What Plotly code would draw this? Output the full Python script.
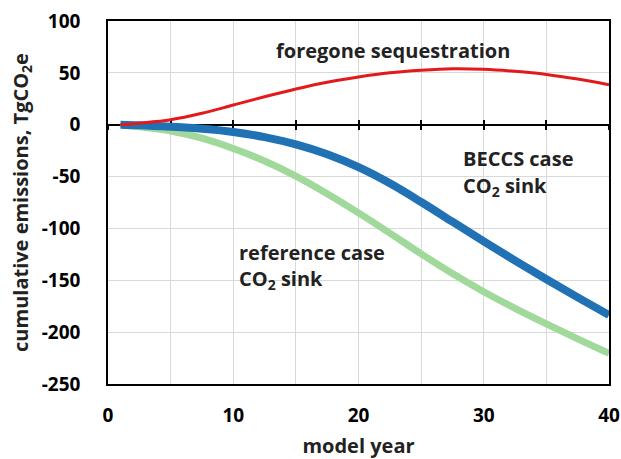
import plotly.graph_objects as go

# model years at which the cumulative series are sampled
years = [1, 2.5, 5, 7.5, 10, 12.5, 15, 17.5, 20, 22.5, 25, 27.5, 30, 32.5, 35, 37.5, 40]

# cumulative emissions, TgCO2e
foregone = [0, 1.5, 4.8, 11, 19, 27, 34.5, 41, 46, 50, 52.5, 54, 53.5, 51.5, 48.5, 44, 38.5]
beccs_sink = [0, -0.5, -2, -4, -7, -12, -19, -28.5, -41, -56.5, -74.5, -93.5, -112.5, -131, -149, -166.5, -183.5]
reference_sink = [0, -2, -6, -13, -23, -35, -49.5, -66.5, -85, -104.5, -124.5, -143.5, -161, -177, -192, -206.5, -220.5]

x_ticks = [0, 10, 20, 30, 40]
y_ticks = [-250, -200, -150, -100, -50, 0, 50, 100]
y_tick_text = ["-250", "-200", "-150", "-100", "-50", "0", "50", "100"]

FONT = "Open Sans"
TXT = "#222222"
GRID = "#d9d9d9"

fig = go.Figure()
fig.add_trace(go.Scatter(x=years, y=reference_sink, mode="lines",
                         line=dict(color="#a1d99b", width=7, shape="spline"),
                         hoverinfo="skip"))
fig.add_trace(go.Scatter(x=years, y=beccs_sink, mode="lines",
                         line=dict(color="#2171b5", width=8, shape="spline"),
                         hoverinfo="skip"))
fig.add_trace(go.Scatter(x=years, y=foregone, mode="lines",
                         line=dict(color="#e31a1c", width=3, shape="spline"),
                         hoverinfo="skip"))
# helper traces so the zero-line axes (with crossing ticks) get drawn
for xa in ("x2", "x3"):
    fig.add_trace(go.Scatter(x=[0], y=[0], xaxis=xa, mode="markers",
                             marker=dict(opacity=0), hoverinfo="skip"))

zero_pos = (0 - y_ticks[0]) / (y_ticks[-1] - y_ticks[0])

fig.update_layout(
    width=621, height=459,
    margin=dict(l=108, r=12, t=21, b=75, autoexpand=False),
    paper_bgcolor="white", plot_bgcolor="white",
    showlegend=False,
    font=dict(family=FONT, color=TXT),
    xaxis=dict(
        range=[0, 40], tickvals=x_ticks, automargin=False,
        showgrid=True, gridcolor=GRID, gridwidth=1,
        minor=dict(dtick=5, showgrid=True, gridcolor=GRID, gridwidth=1),
        showline=True, mirror=True, linecolor="black", linewidth=1.5,
        zeroline=False, ticks="", ticklabelstandoff=13,
        tickfont=dict(family=FONT, size=19, color="black", weight="bold"),
        title=dict(text="model year", standoff=20,
                   font=dict(family=FONT, size=20, color=TXT, weight="bold")),
    ),
    xaxis2=dict(
        range=[0, 40], overlaying="x", anchor="free", position=zero_pos,
        dtick=5, ticks="outside", ticklen=5, tickwidth=1.5, tickcolor="black",
        showline=True, linecolor="black", linewidth=1.5,
        showgrid=False, zeroline=False, showticklabels=False, layer="below traces",
    ),
    xaxis3=dict(
        range=[0, 40], overlaying="x", anchor="free", position=zero_pos,
        dtick=5, ticks="inside", ticklen=5, tickwidth=1.5, tickcolor="black",
        showline=False, showgrid=False, zeroline=False, showticklabels=False,
        layer="below traces",
    ),
    yaxis=dict(
        range=[y_ticks[0], y_ticks[-1]], tickvals=y_ticks, ticktext=y_tick_text,
        automargin=False,
        showgrid=True, gridcolor=GRID, gridwidth=1,
        showline=True, mirror=True, linecolor="black", linewidth=1.5,
        zeroline=False, ticks="", ticklabelstandoff=22,
        tickfont=dict(family=FONT, size=19, color="black", weight="bold"),
        title=dict(text="cumulative emissions, TgCO<sub>2</sub>e", standoff=8,
                   font=dict(family=FONT, size=20, color=TXT, weight="bold")),
    ),
)

label_font = dict(family=FONT, size=20, color=TXT, weight="bold")
labels = [
    (22.75, 72, "center", "foregone sequestration"),
    (28.2, -33, "left", "BECCS case"),
    (28.2, -60, "left", "CO<sub>2</sub> sink"),
    (10.3, -123, "left", "reference case"),
    (10.3, -149, "left", "CO<sub>2</sub> sink"),
]
for x, y, anchor, text in labels:
    fig.add_annotation(x=x, y=y, text=text, showarrow=False, xanchor=anchor,
                       yanchor="middle", font=label_font)

fig.write_html("out.html")
